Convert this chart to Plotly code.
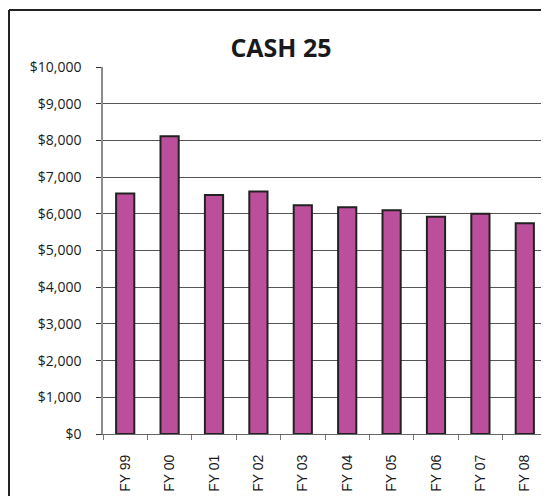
import plotly.graph_objects as go

categories = ["FY 99", "FY 00", "FY 01", "FY 02", "FY 03", "FY 04", "FY 05", "FY 06", "FY 07", "FY 08"]
cash_values = [6550, 8110, 6510, 6610, 6230, 6180, 6100, 5920, 6000, 5740]
y_tick_values = [0, 1000, 2000, 3000, 4000, 5000, 6000, 7000, 8000, 9000, 10000]
y_tick_labels = ["$0", "$1,000", "$2,000", "$3,000", "$4,000", "$5,000",
                 "$6,000", "$7,000", "$8,000", "$9,000", "$10,000"]

# page body has an 8px default margin; size the figure to the remaining window
OFF = 8
W, H = 549 - OFF, 504 - 2 * OFF
L, T = 103 - OFF, 67 - OFF
R = W - (547 - OFF)
B = H - (434 - OFF)
pw = W - L - R
ph = H - T - B

fig = go.Figure()
fig.add_trace(go.Bar(
    x=categories,
    y=cash_values,
    marker=dict(color="#BB4F9C", line=dict(color="#222222", width=2)),
    showlegend=False,
))

fig.update_layout(
    width=W, height=H,
    margin=dict(l=L, r=R, t=T, b=B, pad=0),
    paper_bgcolor="white",
    plot_bgcolor="white",
    bargap=0.59,
    title=dict(
        text="<b>CASH 25</b>",
        font=dict(family="Open Sans", size=25, color="#1a1a1a"),
        x=(281 - OFF) / W, xanchor="center", xref="container",
        y=1 - (48 - OFF) / H, yanchor="middle", yref="container",
    ),
    xaxis=dict(
        type="category",
        tickangle=-90,
        tickfont=dict(family="Liberation Sans", size=14, color="#1a1a1a"),
        ticks="outside", ticklen=5, tickcolor="#777777",
        tickson="boundaries",
        showline=True, linecolor="#666666", linewidth=1,
        showgrid=False,
        ticklabelstandoff=14,
    ),
    yaxis=dict(
        range=[0, 10000],
        tickmode="array",
        tickvals=y_tick_values,
        ticktext=y_tick_labels,
        tickfont=dict(family="Open Sans", size=14, color="#1a1a1a"),
        ticks="outside", ticklen=5, tickcolor="#333333",
        showline=True, linecolor="#8c8c8c", linewidth=1.5,
        showgrid=True, gridcolor="#555555", gridwidth=1,
        zeroline=False,
        ticklabelstandoff=12,
    ),
)

# outer chart border: only its left and top edges fall inside the picture
bx0 = (1 - L) / pw
by1 = 1 + (T - (10 - OFF)) / ph
bx1 = (W - L) / pw
by0 = -(H - (T + ph)) / ph
fig.add_shape(type="line", xref="paper", yref="paper", x0=bx0, x1=bx0, y0=by0, y1=by1,
              line=dict(color="#222222", width=2), layer="below")
fig.add_shape(type="line", xref="paper", yref="paper", x0=bx0, x1=bx1, y0=by1, y1=by1,
              line=dict(color="#222222", width=2), layer="below")

fig.write_html("out.html")
